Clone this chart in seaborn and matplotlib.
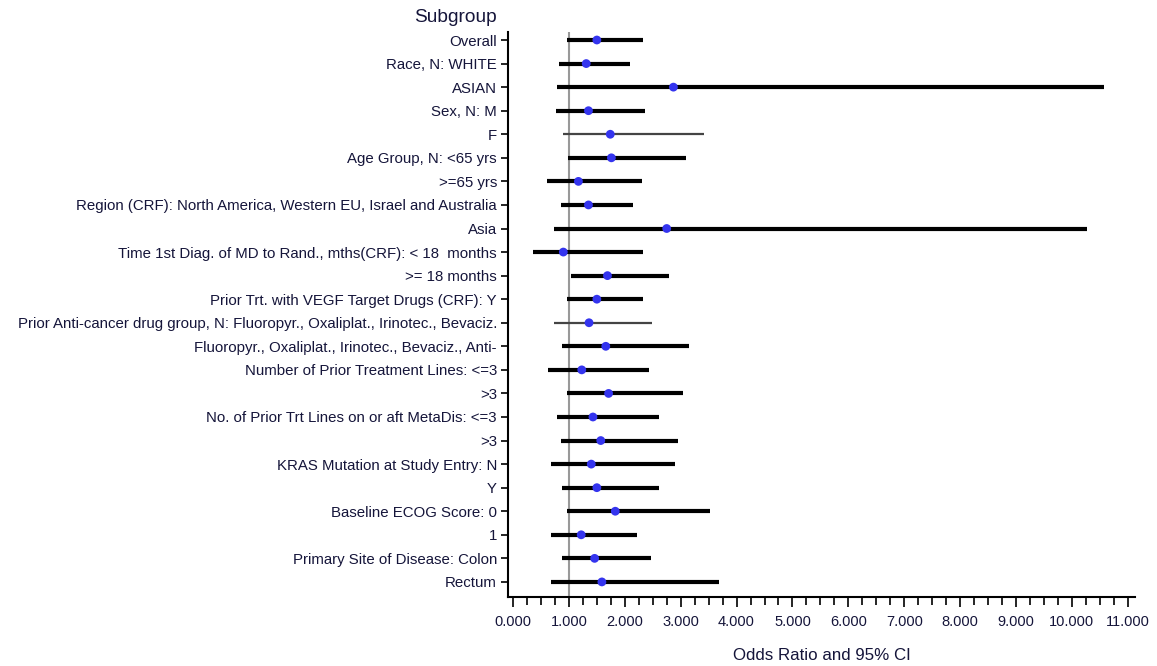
import numpy as np
import pandas as pd
import matplotlib
matplotlib.use("Agg")
import matplotlib.pyplot as plt
from matplotlib.ticker import MultipleLocator, FormatStrFormatter
import seaborn as sns

# subgroup labels, top to bottom
subgroups = [
    "Overall",
    "Race, N: WHITE",
    "ASIAN",
    "Sex, N: M",
    "F",
    "Age Group, N: <65 yrs",
    ">=65 yrs",
    "Region (CRF): North America, Western EU, Israel and Australia",
    "Asia",
    "Time 1st Diag. of MD to Rand., mths(CRF): < 18  months",
    ">= 18 months",
    "Prior Trt. with VEGF Target Drugs (CRF): Y",
    "Prior Anti-cancer drug group, N: Fluoropyr., Oxaliplat., Irinotec., Bevaciz.",
    "Fluoropyr., Oxaliplat., Irinotec., Bevaciz., Anti-",
    "Number of Prior Treatment Lines: <=3",
    ">3",
    "No. of Prior Trt Lines on or aft MetaDis: <=3",
    ">3",
    "KRAS Mutation at Study Entry: N",
    "Y",
    "Baseline ECOG Score: 0",
    "1",
    "Primary Site of Disease: Colon",
    "Rectum",
]

odds_ratio = [1.50, 1.31, 2.87, 1.35, 1.74, 1.76, 1.17, 1.35, 2.75, 0.90, 1.69, 1.50,
              1.36, 1.66, 1.23, 1.71, 1.43, 1.57, 1.40, 1.50, 1.83, 1.22, 1.46, 1.59]
ci_low = [0.96, 0.82, 0.79, 0.76, 0.90, 0.98, 0.60, 0.85, 0.73, 0.35, 1.03, 0.96,
          0.73, 0.87, 0.63, 0.96, 0.79, 0.85, 0.68, 0.87, 0.96, 0.68, 0.87, 0.68]
ci_high = [2.32, 2.10, 10.58, 2.37, 3.42, 3.09, 2.30, 2.15, 10.27, 2.32, 2.79, 2.32,
           2.49, 3.15, 2.43, 3.04, 2.62, 2.96, 2.90, 2.62, 3.53, 2.21, 2.46, 3.69]

# rows drawn with a thin grey line (small subgroups)
thin_rows = [4, 12]

df = pd.DataFrame({"row": np.arange(len(subgroups)), "or": odds_ratio,
                   "lo": ci_low, "hi": ci_high})

sns.set_style("white")
plt.rcParams["font.family"] = ["Liberation Sans", "DejaVu Sans"]
text_color = "#15153a"

fig = plt.figure(figsize=(11.57, 6.66), dpi=100)
ax = fig.add_axes([508 / 1157, 1 - 597 / 666, (1135 - 508) / 1157, (597 - 32) / 666])

# reference line at OR = 1
ax.axvline(1.0, color="#999999", lw=1.5, zorder=1)

thick = df[~df["row"].isin(thin_rows)]
thin = df[df["row"].isin(thin_rows)]
ax.hlines(thick["row"], thick["lo"], thick["hi"], color="black", lw=3, zorder=2)
ax.hlines(thin["row"], thin["lo"], thin["hi"], color="#444444", lw=1.6, zorder=2)

sns.scatterplot(data=df, x="or", y="row", ax=ax, color="#3434ee", s=40,
                edgecolor="none", zorder=3, legend=False)

ax.set_xlim(-0.09, 11.13)
ax.set_ylim(len(subgroups) - 1 + 0.64, -0.34)
ax.xaxis.set_major_locator(MultipleLocator(1))
ax.xaxis.set_minor_locator(MultipleLocator(0.25))
ax.xaxis.set_major_formatter(FormatStrFormatter("%.3f"))
ax.set_yticks(df["row"])
ax.set_yticklabels(subgroups)

ax.tick_params(axis="both", which="both", direction="out", color="black",
               labelcolor=text_color)
ax.tick_params(axis="x", which="both", bottom=True, labelsize=10.5)
ax.tick_params(axis="x", which="major", length=7, width=1.2, pad=6)
ax.tick_params(axis="x", which="minor", length=6, width=1.2)
ax.tick_params(axis="y", length=5, width=1.2, pad=3, left=True, labelsize=10.8)

for side in ["top", "right"]:
    ax.spines[side].set_visible(False)
for side in ["left", "bottom"]:
    ax.spines[side].set_color("black")
    ax.spines[side].set_linewidth(1.5)

ax.set_ylabel("")
ax.set_xlabel("Odds Ratio and 95% CI", fontsize=12.2, color=text_color, labelpad=14)
fig.text(497 / 1157, 1 - 18 / 666, "Subgroup", ha="right", va="center",
         fontsize=13.8, color=text_color)

fig.savefig("out.png", dpi=100)
